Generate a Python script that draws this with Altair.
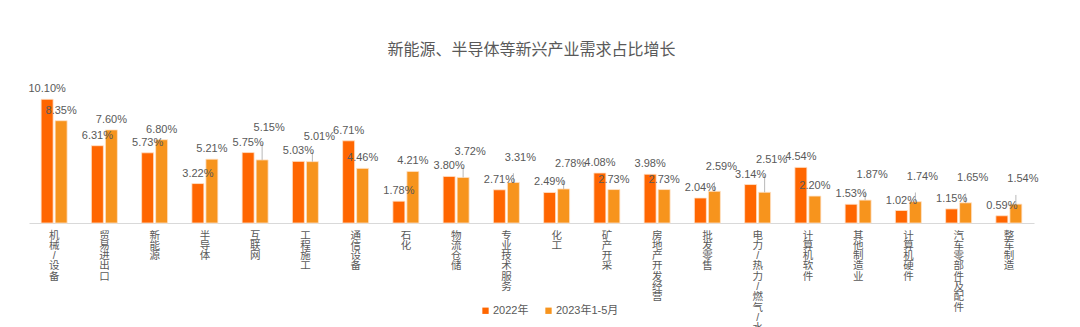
import altair as alt
import pandas as pd

categories = ["机械/设备", "贸易进出口", "新能源", "半导体", "互联网", "工程施工", "通信设备",
              "石化", "物流仓储", "专业技术服务", "化工", "矿产开采", "房地产开发经营", "批发零售",
              "电力/热力/燃气/水务", "计算机软件", "其他制造业", "计算机硬件", "汽车零部件及配件", "整车制造"]
v2022 = [10.10, 6.31, 5.73, 3.22, 5.75, 5.03, 6.71, 1.78, 3.80, 2.71, 2.49, 4.08, 3.98, 2.04,
         3.14, 4.54, 1.53, 1.02, 1.15, 0.59]
v2023 = [8.35, 7.60, 6.80, 5.21, 5.15, 5.01, 4.46, 4.21, 3.72, 3.31, 2.78, 2.73, 2.73, 2.59,
         2.51, 2.20, 1.87, 1.74, 1.65, 1.54]
series_names = ["2022年", "2023年1-5月"]
series_colors = ["#FF6600", "#F7941D"]

rows = []
for c, a, b in zip(categories, v2022, v2023):
    rows.append({"cat": c, "series": series_names[0], "value": a})
    rows.append({"cat": c, "series": series_names[1], "value": b})
df = pd.DataFrame(rows)

FONT = "Liberation Sans, Noto Sans CJK SC, sans-serif"
GRAY = "#595959"

x_enc = alt.X("cat:N", sort=categories,
              scale=alt.Scale(paddingInner=0.4826, paddingOuter=0.2413),
              axis=alt.Axis(title=None, labelAngle=0, labelExpr="split(datum.label, '')",
                            labelBaseline="top", labelAlign="center", labelLineHeight=10.3,
                            labelFontSize=10.5, labelColor=GRAY, labelPadding=7, ticks=False,
                            domainColor="#D9D9D9", domainWidth=1, labelOverlap=False,
                            labelBound=False, labelLimit=0, labelFont=FONT, grid=False))
xoff_enc = alt.XOffset("series:N", sort=series_names,
                       scale=alt.Scale(paddingInner=0.143, paddingOuter=0))
y_scale = alt.Scale(domain=[0, 12], nice=False, zero=True)

base = alt.Chart(df).transform_joinaggregate(
    vmax="max(value)", vmin="min(value)", groupby=["cat"]
).transform_calculate(
    label="format(datum.value, '.2f') + '%'",
    close="datum.vmax - datum.vmin < 1.0 && datum.series == '2023年1-5月'",
    lab_y="(datum.vmax - datum.vmin < 1.0 && datum.series == '2023年1-5月') ? datum.vmax + 1.2 : datum.value",
    lead_top="datum.vmax + 1.2 - 0.45",
).encode(x=x_enc, xOffset=xoff_enc)

bars = base.mark_bar(stroke="#FFE3CC", strokeWidth=0.8).encode(
    y=alt.Y("value:Q", scale=y_scale, axis=None),
    color=alt.Color("series:N", sort=series_names,
                    scale=alt.Scale(domain=series_names, range=series_colors),
                    legend=alt.Legend(title=None, orient="none", legendX=451, legendY=229,
                                      direction="horizontal", symbolType="square",
                                      symbolSize=40, symbolStrokeWidth=0, labelFontSize=11,
                                      labelColor=GRAY, labelFont=FONT, columnPadding=14,
                                      labelOffset=2))
)

leaders = base.transform_filter("datum.close").mark_rule(color="#A6A6A6", strokeWidth=0.8).encode(
    y=alt.Y("value:Q", scale=y_scale, axis=None),
    y2="lead_top:Q",
)

labels_normal = base.transform_filter("!datum.close").mark_text(
    fontSize=11, color=GRAY, font=FONT, baseline="alphabetic", align="center", dy=-7
).encode(y=alt.Y("lab_y:Q", scale=y_scale, axis=None), text="label:N")

labels_raised = base.transform_filter("datum.close").mark_text(
    fontSize=11, color=GRAY, font=FONT, baseline="alphabetic", align="center", dy=-7, dx=7
).encode(y=alt.Y("lab_y:Q", scale=y_scale, axis=None), text="label:N")

chart = alt.layer(bars, leaders, labels_normal, labels_raised).properties(
    width=1005, height=147,
    title=alt.TitleParams("新能源、半导体等新兴产业需求占比增长", anchor="middle", frame="group",
                          baseline="bottom", offset=2, fontSize=16, fontWeight="normal",
                          color=GRAY, font="Noto Sans CJK SC"),
    autosize=alt.AutoSizeParams(type="none"),
    padding={"left": 29, "top": 76, "right": 46, "bottom": 104},
    background="white",
).configure_view(stroke=None)

chart.save("out.html", embed_options={"renderer": "svg", "actions": False})
